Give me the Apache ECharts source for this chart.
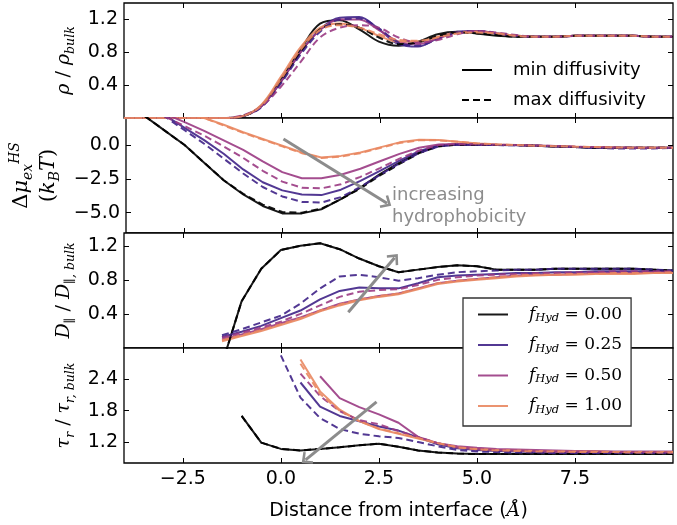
<!DOCTYPE html>
<html>
<head>
<meta charset="utf-8">
<title>hydrophobicity profiles</title>
<script src="https://cdn.jsdelivr.net/npm/echarts@6/dist/echarts.min.js"></script>
<style>
  html, body { margin: 0; padding: 0; background: #fff; }
  #chart { width: 677px; height: 525px; }
</style>
</head>
<body>
<div id="chart"></div>
<script>
// sample positions (Angstrom)
var xs = [-4, -3.5, -3, -2.5, -2, -1.5, -1, -0.5, 0, 0.5, 1, 1.5, 2, 2.5, 3, 3.5, 4, 4.5, 5, 5.5, 6, 6.5, 7, 7.5, 8, 8.5, 9, 9.5, 10];
var fracs = ['0.00', '0.25', '0.50', '1.00'];
var xTicks = [-2.5, 0, 2.5, 5, 7.5];
var yTicks = [[0.4, 0.8, 1.2], [-5, -2.5, 0], [0.4, 0.8, 1.2], [1.2, 1.8, 2.4]];

// density  (solid = min diffusivity, dashed = max diffusivity)
var rho00 = [0, 0, 0, 0, 0, 0, 0.02, 0.15, 0.47, 0.83, 1.15, 1.19, 1.08, 0.93, 0.88, 0.93, 1.02, 1.05, 1.03, 1.0, 0.99, 0.99, 0.99, 1.0, 1.0, 1.0, 1.0, 0.99, 0.99];
var rho25 = [0, 0, 0, 0, 0, 0, 0.02, 0.14, 0.44, 0.8, 1.08, 1.22, 1.23, 1.08, 0.9, 0.87, 0.97, 1.05, 1.06, 1.03, 1.0, 0.99, 0.99, 1.0, 1.0, 1.0, 1.0, 0.99, 0.99];
var rho50 = [0, 0, 0, 0, 0, 0, 0.02, 0.14, 0.44, 0.8, 1.07, 1.2, 1.2, 1.07, 0.93, 0.9, 0.97, 1.04, 1.06, 1.03, 1.0, 0.99, 0.99, 1.0, 1.0, 1.0, 1.0, 0.99, 0.99];
var rho100 = [0, 0, 0, 0, 0, 0, 0.02, 0.16, 0.5, 0.86, 1.1, 1.15, 1.1, 1.0, 0.93, 0.93, 0.99, 1.04, 1.05, 1.03, 1.0, 0.99, 0.99, 1.0, 1.0, 1.0, 1.0, 0.99, 0.99];
var rhoMax00 = [0, 0, 0, 0, 0, 0, 0.02, 0.14, 0.45, 0.8, 1.08, 1.14, 1.1, 0.98, 0.9, 0.92, 1.0, 1.04, 1.03, 1.01, 0.99, 0.99, 0.99, 1.0, 1.0, 1.0, 1.0, 0.99, 0.99];
var rhoMax25 = [0, 0, 0, 0, 0, 0, 0.02, 0.13, 0.42, 0.77, 1.05, 1.2, 1.21, 1.09, 0.92, 0.88, 0.96, 1.04, 1.06, 1.03, 1.0, 0.99, 0.99, 1.0, 1.0, 1.0, 1.0, 0.99, 0.99];
var rhoMax50 = [0, 0, 0, 0, 0, 0, 0.03, 0.14, 0.38, 0.68, 0.98, 1.1, 1.13, 1.1, 0.98, 0.92, 0.95, 1.02, 1.06, 1.04, 1.01, 0.99, 0.99, 1.0, 1.0, 1.0, 1.0, 0.99, 0.99];
var rhoMax100 = [0, 0, 0, 0, 0, 0, 0.02, 0.15, 0.47, 0.83, 1.07, 1.13, 1.1, 1.02, 0.95, 0.94, 0.98, 1.03, 1.04, 1.03, 1.0, 0.99, 0.99, 1.0, 1.0, 1.0, 1.0, 0.99, 0.99];

// excess chemical potential
var mu00 = [3.0, 2.1, 1.05, 0.0, -1.3, -2.6, -3.65, -4.5, -5.05, -5.05, -4.75, -4.0, -3.15, -2.15, -1.3, -0.55, -0.05, 0.05, 0.03, 0.0, 0.0, -0.05, -0.1, -0.15, -0.2, -0.2, -0.2, -0.2, -0.2];
var mu25 = [4.0, 3.1, 2.2, 1.27, 0.36, -0.64, -1.8, -2.75, -3.35, -3.65, -3.7, -3.3, -2.65, -1.9, -1.15, -0.45, -0.02, 0.05, 0.03, 0.0, -0.02, -0.05, -0.1, -0.15, -0.2, -0.2, -0.2, -0.22, -0.2];
var mu50 = [3.5, 2.9, 2.3, 1.7, 1.05, 0.35, -0.35, -1.2, -2.0, -2.45, -2.45, -2.2, -1.75, -1.2, -0.65, -0.2, 0.05, 0.08, 0.05, 0.02, 0.0, -0.03, -0.07, -0.12, -0.15, -0.18, -0.2, -0.2, -0.2];
var mu100 = [4.5, 3.8, 3.0, 2.4, 2.0, 1.5, 0.95, 0.45, -0.05, -0.55, -0.92, -0.8, -0.55, -0.17, 0.2, 0.4, 0.37, 0.25, 0.12, 0.05, 0.0, -0.05, -0.08, -0.12, -0.15, -0.18, -0.2, -0.2, -0.2];
var muMax00 = [3.0, 2.1, 1.05, 0.0, -1.3, -2.6, -3.6, -4.4, -4.95, -5.0, -4.7, -4.0, -3.2, -2.25, -1.4, -0.6, -0.1, 0.03, 0.02, 0.0, 0.0, -0.05, -0.1, -0.15, -0.2, -0.2, -0.2, -0.2, -0.2];
var muMax25 = [4.0, 3.1, 2.1, 1.1, 0.1, -1.0, -2.1, -3.1, -3.8, -4.2, -4.25, -3.85, -3.1, -2.2, -1.35, -0.6, -0.1, 0.03, 0.02, 0.0, -0.02, -0.05, -0.1, -0.15, -0.2, -0.25, -0.25, -0.25, -0.2];
var muMax50 = [3.5, 2.8, 2.1, 1.4, 0.7, -0.1, -0.95, -1.9, -2.7, -3.15, -3.2, -2.9, -2.35, -1.7, -1.0, -0.4, 0.0, 0.07, 0.05, 0.02, 0.0, -0.03, -0.07, -0.12, -0.15, -0.18, -0.2, -0.2, -0.2];
var muMax100 = [4.5, 3.8, 3.0, 2.4, 2.0, 1.45, 0.9, 0.4, -0.1, -0.6, -0.95, -0.85, -0.6, -0.22, 0.15, 0.35, 0.35, 0.25, 0.12, 0.05, 0.0, -0.05, -0.08, -0.12, -0.15, -0.18, -0.2, -0.2, -0.2];

// parallel diffusivity
var dif00 = [null, null, null, null, null, -0.19, 0.55, 0.93, 1.15, 1.2, 1.23, 1.16, 1.05, 0.96, 0.89, 0.92, 0.95, 0.97, 0.96, 0.92, 0.92, 0.92, 0.93, 0.93, 0.93, 0.93, 0.93, 0.92, 0.91];
var dif25 = [null, null, null, null, null, 0.13, 0.19, 0.26, 0.35, 0.44, 0.57, 0.67, 0.71, 0.7, 0.7, 0.76, 0.83, 0.85, 0.86, 0.87, 0.88, 0.88, 0.89, 0.89, 0.9, 0.9, 0.9, 0.9, 0.9];
var dif50 = [null, null, null, null, null, 0.1, 0.16, 0.22, 0.29, 0.36, 0.44, 0.52, 0.57, 0.61, 0.64, 0.7, 0.76, 0.79, 0.81, 0.83, 0.85, 0.86, 0.86, 0.87, 0.88, 0.88, 0.88, 0.89, 0.89];
var dif100 = [null, null, null, null, null, 0.08, 0.14, 0.2, 0.27, 0.34, 0.43, 0.5, 0.56, 0.6, 0.63, 0.69, 0.75, 0.78, 0.8, 0.82, 0.84, 0.85, 0.86, 0.86, 0.87, 0.87, 0.87, 0.88, 0.88];
var difMax00 = [null, null, null, null, null, -0.19, 0.55, 0.93, 1.15, 1.2, 1.23, 1.16, 1.05, 0.96, 0.89, 0.92, 0.95, 0.97, 0.96, 0.92, 0.92, 0.92, 0.93, 0.93, 0.93, 0.93, 0.93, 0.92, 0.91];
var difMax25 = [null, null, null, null, null, 0.15, 0.22, 0.3, 0.38, 0.52, 0.7, 0.84, 0.86, 0.83, 0.79, 0.82, 0.86, 0.89, 0.9, 0.91, 0.92, 0.92, 0.93, 0.93, 0.93, 0.93, 0.93, 0.92, 0.91];
var difMax50 = [null, null, null, null, null, 0.12, 0.18, 0.24, 0.31, 0.4, 0.5, 0.6, 0.66, 0.68, 0.69, 0.74, 0.8, 0.83, 0.85, 0.86, 0.87, 0.88, 0.88, 0.89, 0.89, 0.9, 0.9, 0.9, 0.9];
var difMax100 = [null, null, null, null, null, 0.09, 0.15, 0.21, 0.28, 0.35, 0.44, 0.51, 0.57, 0.61, 0.64, 0.7, 0.76, 0.79, 0.81, 0.83, 0.85, 0.86, 0.86, 0.87, 0.87, 0.88, 0.88, 0.88, 0.89];

// rotational relaxation time
var tau00 = [null, null, null, null, null, null, 1.7, 1.19, 1.07, 1.04, 1.07, 1.1, 1.14, 1.17, 1.11, 1.04, 1.0, 0.98, 0.97, 0.97, 0.97, 0.97, 0.97, 0.97, 0.97, 0.97, 0.97, 0.97, 0.97];
var tau25 = [null, null, null, null, null, null, null, null, null, 2.34, 1.88, 1.7, 1.6, 1.5, 1.42, 1.29, 1.16, 1.08, 1.05, 1.03, 1.02, 1.01, 1.0, 1.0, 1.0, 0.99, 0.99, 0.99, 0.99];
var tau50 = [null, null, null, null, null, null, null, null, null, null, 2.46, 2.04, 1.87, 1.73, 1.57, 1.3, 1.18, 1.12, 1.09, 1.07, 1.06, 1.05, 1.04, 1.03, 1.03, 1.02, 1.02, 1.02, 1.02];
var tau100 = [null, null, null, null, null, null, null, null, null, 2.78, 2.17, 1.82, 1.6, 1.45, 1.36, 1.27, 1.18, 1.1, 1.07, 1.05, 1.04, 1.03, 1.02, 1.02, 1.02, 1.01, 1.01, 1.01, 1.01];
var tauMax00 = [null, null, null, null, null, null, 1.7, 1.19, 1.07, 1.04, 1.07, 1.1, 1.14, 1.17, 1.11, 1.04, 1.0, 0.98, 0.97, 0.97, 0.97, 0.97, 0.97, 0.97, 0.97, 0.97, 0.97, 0.97, 0.97];
var tauMax25 = [null, null, null, null, null, null, null, null, 2.86, 2.05, 1.66, 1.45, 1.36, 1.31, 1.28, 1.2, 1.12, 1.05, 1.02, 1.01, 1.0, 1.0, 0.99, 0.99, 0.99, 0.99, 0.99, 0.99, 0.99];
var tauMax50 = [null, null, null, null, null, null, null, null, null, 2.51, 2.08, 1.79, 1.62, 1.54, 1.41, 1.3, 1.18, 1.1, 1.07, 1.05, 1.04, 1.03, 1.02, 1.02, 1.01, 1.01, 1.01, 1.01, 1.0];
var tauMax100 = [null, null, null, null, null, null, null, null, null, 2.7, 2.12, 1.8, 1.6, 1.46, 1.37, 1.28, 1.18, 1.1, 1.06, 1.04, 1.03, 1.02, 1.02, 1.01, 1.01, 1.01, 1.0, 1.0, 1.0];

// gray trend arrows [start, end] in data units, one per panel (panel 1 has none)
var arrowMu = [[0.03, 0.45], [2.68, -4.3]];
var arrowDif = [[1.72, 0.42], [2.9, 1.06]];
var arrowTau = [[2.44, 1.97], [0.63, 0.86]];

var chart = echarts.init(document.getElementById('chart'));

var colors = ['#000000', '#3f2287', '#9a3a83', '#e98760'];
var sans = 'DejaVu Sans';
var serif = 'DejaVu Serif';
var tops = [3, 118, 233, 348];
var yRange = [[0, 1.4], [-6.5, 2], [0, 1.35], [0.8, 3.0]];
var minData = [[rho00, rho25, rho50, rho100], [mu00, mu25, mu50, mu100], [dif00, dif25, dif50, dif100], [tau00, tau25, tau50, tau100]];
var maxData = [[rhoMax00, rhoMax25, rhoMax50, rhoMax100], [muMax00, muMax25, muMax50, muMax100], [difMax00, difMax25, difMax50, difMax100], [tauMax00, tauMax25, tauMax50, tauMax100]];

function fmt(v) {
    return v.toFixed(1).replace('-', '\u2212');
}

function pairs(vals) {
    var out = [];
    for (var i = 0; i < xs.length; i++) {
        if (vals[i] !== null) out.push([xs[i], vals[i]]);
    }
    return out;
}

var nameStyles = [
    { name: '{i|\u03c1}{n| / }{i|\u03c1}{s|bulk}', gap: 44, size: 19 },
    { name: '{n|\u0394}{i|\u03bc}{s|ex}{p|HS}\n{n|(}{i|k}{s|B}{i|T}{n|)}', gap: 64, size: 21 },
    { name: '{i|D}{s|\u2225}{n| / }{i|D}{s|\u2225, bulk}', gap: 44, size: 19 },
    { name: '{i|\u03c4}{s|r}{n| / }{i|\u03c4}{s|r, bulk}', gap: 44, size: 19 }
];

var grids = [], xAxes = [], yAxes = [], series = [];
for (var p = 0; p < 4; p++) {
    var fs = nameStyles[p].size;
    grids.push({ left: 124, right: 4, top: tops[p], height: 115, show: true, borderColor: '#000', borderWidth: 1.3, backgroundColor: '#fff' });
    var tickStyle = { show: true, inside: true, length: 5, lineStyle: { color: '#000', width: 1 } };
    xAxes.push({
        type: 'value', gridIndex: p, min: -4, max: 10,
        axisLine: { show: false, onZero: false }, splitLine: { show: false },
        axisTick: Object.assign({ customValues: xTicks }, tickStyle),
        axisLabel: { show: p === 3, customValues: xTicks, formatter: fmt, fontFamily: sans, fontSize: 19, color: '#000', margin: 7 },
        name: p === 3 ? 'Distance from interface ({a|\u00c5})' : '',
        nameLocation: 'middle', nameGap: 39,
        nameTextStyle: { fontFamily: sans, fontSize: 19, color: '#000', rich: { a: { fontFamily: serif, fontStyle: 'italic', fontSize: 19 } } }
    });
    xAxes.push({
        type: 'value', gridIndex: p, min: -4, max: 10, position: 'top',
        axisLine: { show: false, onZero: false }, splitLine: { show: false }, axisLabel: { show: false },
        axisTick: Object.assign({ customValues: xTicks }, tickStyle)
    });
    yAxes.push({
        type: 'value', gridIndex: p, min: yRange[p][0], max: yRange[p][1],
        axisLine: { show: false, onZero: false }, splitLine: { show: false },
        axisTick: Object.assign({ customValues: yTicks[p] }, tickStyle),
        axisLabel: { customValues: yTicks[p], formatter: fmt, fontFamily: sans, fontSize: 19, color: '#000', margin: 6 },
        name: nameStyles[p].name, nameLocation: 'middle', nameRotate: 90, nameGap: nameStyles[p].gap,
        nameTextStyle: {
            color: '#000', align: 'center',
            rich: {
                i: { fontFamily: serif, fontStyle: 'italic', fontSize: fs, lineHeight: fs + 6, verticalAlign: 'middle' },
                n: { fontFamily: serif, fontSize: fs, lineHeight: fs + 6, verticalAlign: 'middle' },
                s: { fontFamily: serif, fontStyle: 'italic', fontSize: fs * 0.66, lineHeight: fs * 0.66, verticalAlign: 'bottom' },
                p: { fontFamily: serif, fontStyle: 'italic', fontSize: fs * 0.66, lineHeight: fs * 0.66, verticalAlign: 'top' }
            }
        }
    });
    yAxes.push({
        type: 'value', gridIndex: p, min: yRange[p][0], max: yRange[p][1], position: 'right',
        axisLine: { show: false, onZero: false }, splitLine: { show: false }, axisLabel: { show: false },
        axisTick: Object.assign({ customValues: yTicks[p] }, tickStyle)
    });
    for (var k = 0; k < 4; k++) {
        series.push({
            name: fracs[k], type: 'line', xAxisIndex: 2 * p, yAxisIndex: 2 * p,
            data: pairs(minData[p][k]), symbol: 'none', smooth: p === 0 ? 0.35 : false,
            color: colors[k], lineStyle: { width: 2, color: colors[k], opacity: 0.9 }, z: 3, silent: true
        });
    }
    for (var k2 = 0; k2 < 4; k2++) {
        series.push({
            name: fracs[k2], type: 'line', xAxisIndex: 2 * p, yAxisIndex: 2 * p,
            data: pairs(maxData[p][k2]), symbol: 'none', smooth: p === 0 ? 0.35 : false,
            color: colors[k2], lineStyle: { width: 2, color: colors[k2], type: [7, 4], opacity: 0.9 }, z: 3, silent: true
        });
    }
}

// style key for the top panel
series.push({ name: 'min diffusivity', type: 'line', xAxisIndex: 0, yAxisIndex: 0, data: [], symbol: 'none', color: '#000', lineStyle: { width: 2, color: '#000' } });
series.push({ name: 'max diffusivity', type: 'line', xAxisIndex: 0, yAxisIndex: 0, data: [], symbol: 'none', color: '#000', lineStyle: { width: 2, color: '#000', type: [7, 4] } });

// trend arrows, open "->" style head
var chevron = 'path://M0,0 L6,6.5 L4.6,7.9 L0,3.1 L-4.6,7.9 L-6,6.5 Z';
var arrows = [arrowMu, arrowDif, arrowTau];
for (var a = 0; a < 3; a++) {
    series.push({
        type: 'line', xAxisIndex: 2 * (a + 1), yAxisIndex: 2 * (a + 1), data: [], z: 6,
        markLine: {
            silent: true, symbol: ['none', chevron], symbolSize: [15, 10], label: { show: false },
            lineStyle: { color: '#8c8c8c', width: 3, type: 'solid' },
            data: [[{ coord: arrows[a][0] }, { coord: arrows[a][1] }]]
        }
    });
}

var option = {
    animation: false,
    backgroundColor: '#fff',
    grid: grids,
    xAxis: xAxes,
    yAxis: yAxes,
    legend: [
        {
            data: ['min diffusivity', 'max diffusivity'], orient: 'vertical', left: 456, top: 56,
            itemWidth: 30, itemHeight: 14, itemGap: 12, selectedMode: false,
            itemStyle: { opacity: 0 },
            textStyle: { fontFamily: sans, fontSize: 18, color: '#000', padding: [0, 0, 0, 16] }
        },
        {
            data: fracs, orient: 'vertical', left: 463, top: 298, selectedMode: false,
            itemWidth: 30, itemHeight: 14, itemGap: 12,
            itemStyle: { opacity: 0 },
            padding: [8, 9, 10, 14], backgroundColor: '#fff', borderColor: '#333', borderWidth: 1.3, borderRadius: 0,
            formatter: function (n) { return '{i|f}{s|Hyd}{n| = ' + n + '}'; },
            textStyle: {
                color: '#000', padding: [0, 0, 0, 16],
                rich: {
                    i: { fontFamily: serif, fontStyle: 'italic', fontSize: 17, lineHeight: 20, verticalAlign: 'middle' },
                    s: { fontFamily: serif, fontStyle: 'italic', fontSize: 11.5, lineHeight: 12, verticalAlign: 'bottom' },
                    n: { fontFamily: serif, fontSize: 17, lineHeight: 20, verticalAlign: 'middle' }
                }
            }
        }
    ],
    graphic: [
        {
            type: 'text', left: 392, top: 184, z: 10, silent: true,
            style: { text: 'increasing\nhydrophobicity', fontFamily: sans, fontSize: 18, lineHeight: 22, fill: '#8c8c8c' }
        }
    ],
    series: series
};

chart.setOption(option);
</script>
</body>
</html>
